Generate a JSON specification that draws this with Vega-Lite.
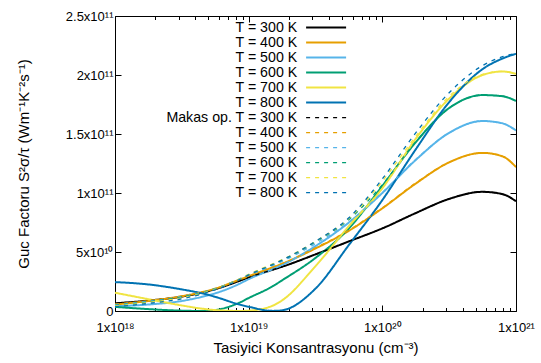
{
  "$schema": "https://vega.github.io/schema/vega-lite/v6.json",
  "width": 401,
  "height": 295,
  "autosize": {"type": "none"},
  "padding": {"left": 115, "top": 16, "right": 25, "bottom": 52},
  "config": {
    "view": {"stroke": "black", "strokeWidth": 1},
    "font": "Liberation Sans",
    "axis": {"domain": false, "grid": false, "tickColor": "black", "labelColor": "black", "titleColor": "black", "labelFontSize": 13, "titleFontSize": 15, "titleFontWeight": "normal", "labelFont": "Liberation Sans", "titleFont": "Liberation Sans"}
  },
  "datasets": {
    "curves": [
      {"n": 1e18, "a300": 6.5e9, "a400": 5.5e9, "a500": 4.0e9, "a600": 3.5e9, "a700": 15.5e9, "a800": 24.5e9, "b300": 6.5e9, "b400": 6.0e9, "b500": 5.3e9, "b600": 4.8e9, "b700": 4.3e9, "b800": 3.7e9},
      {"n": 1.778e18, "a300": 8.8e9, "a400": 8.5e9, "a500": 5.5e9, "a600": 1.6e9, "a700": 10e9, "a800": 22.5e9, "b300": 8.8e9, "b400": 8.8e9, "b500": 8.3e9, "b600": 7.8e9, "b700": 7.2e9, "b800": 6.4e9},
      {"n": 3.162e18, "a300": 12.2e9, "a400": 12.5e9, "a500": 8.5e9, "a600": 0.3e9, "a700": 4.7e9, "a800": 18.3e9, "b300": 12.2e9, "b400": 12.8e9, "b500": 12.3e9, "b600": 11.8e9, "b700": 11.2e9, "b800": 10.4e9},
      {"n": 4.467e18, "a300": 15.5e9, "a400": 16e9, "a500": 12e9, "a600": 0, "a700": 2e9, "a800": 15e9, "b300": 15.5e9, "b400": 16e9, "b500": 15.8e9, "b600": 15.4e9, "b700": 15e9, "b800": 14.4e9},
      {"n": 5.623e18, "a300": 18.5e9, "a400": 19e9, "a500": 15e9, "a600": 0.8e9, "a700": 0.8e9, "a800": 12e9, "b300": 18.5e9, "b400": 19e9, "b500": 19e9, "b600": 18.8e9, "b700": 18.5e9, "b800": 18e9},
      {"n": 8.511e18, "a300": 25.5e9, "a400": 26.5e9, "a500": 23e9, "a600": 7e9, "a700": 0.05e9, "a800": 5.5e9, "b300": 25.5e9, "b400": 26.5e9, "b500": 26.8e9, "b600": 27e9, "b700": 27e9, "b800": 26.6e9},
      {"n": 1e19, "a300": 28.5e9, "a400": 29.5e9, "a500": 27e9, "a600": 11e9, "a700": 0.3e9, "a800": 3.6e9, "b300": 28.5e9, "b400": 29.8e9, "b500": 30.3e9, "b600": 30.8e9, "b700": 31e9, "b800": 30.6e9},
      {"n": 1.514e19, "a300": 35e9, "a400": 37e9, "a500": 35.5e9, "a600": 21e9, "a700": 4.5e9, "a800": 0.1e9, "b300": 35e9, "b400": 37.5e9, "b500": 38.5e9, "b600": 39.5e9, "b700": 40e9, "b800": 39.5e9},
      {"n": 1.778e19, "a300": 37.5e9, "a400": 40e9, "a500": 39e9, "a600": 26e9, "a700": 9e9, "a800": 0.6e9, "b300": 37.5e9, "b400": 40.3e9, "b500": 42e9, "b600": 43e9, "b700": 43.5e9, "b800": 43.2e9},
      {"n": 3.162e19, "a300": 48e9, "a400": 53e9, "a500": 55e9, "a600": 45e9, "a700": 38e9, "a800": 19e9, "b300": 48e9, "b400": 53.5e9, "b500": 57e9, "b600": 58.5e9, "b700": 59e9, "b800": 59e9},
      {"n": 5.623e19, "a300": 59e9, "a400": 68e9, "a500": 75e9, "a600": 70e9, "a700": 72e9, "a800": 56e9, "b300": 59e9, "b400": 68.5e9, "b500": 75.5e9, "b600": 77.5e9, "b700": 78.5e9, "b800": 79e9},
      {"n": 1e20, "a300": 70e9, "a400": 87e9, "a500": 100e9, "a600": 106e9, "a700": 104e9, "a800": 94e9, "b300": 70e9, "b400": 87.5e9, "b500": 100.5e9, "b600": 107e9, "b700": 110e9, "b800": 112e9},
      {"n": 1.778e20, "a300": 83e9, "a400": 108e9, "a500": 128e9, "a600": 143e9, "a700": 146e9, "a800": 137e9, "b300": 83e9, "b400": 108.5e9, "b500": 128.5e9, "b600": 143.5e9, "b700": 148e9, "b800": 151e9},
      {"n": 3.162e20, "a300": 95e9, "a400": 126e9, "a500": 151e9, "a600": 172e9, "a700": 180e9, "a800": 177e9, "b300": 95e9, "b400": 126e9, "b500": 151e9, "b600": 172e9, "b700": 182e9, "b800": 185e9},
      {"n": 5.623e20, "a300": 101e9, "a400": 134e9, "a500": 161e9, "a600": 183e9, "a700": 200e9, "a800": 205e9, "b300": 101e9, "b400": 134e9, "b500": 161e9, "b600": 183e9, "b700": 200.5e9, "b800": 208e9},
      {"n": 7.943e20, "a300": 99e9, "a400": 131e9, "a500": 159e9, "a600": 182e9, "a700": 203e9, "a800": 214e9, "b300": 99e9, "b400": 131e9, "b500": 159e9, "b600": 182e9, "b700": 203e9, "b800": 215.5e9},
      {"n": 1e21, "a300": 93e9, "a400": 122e9, "a500": 153e9, "a600": 178e9, "a700": 201e9, "a800": 218e9, "b300": 93e9, "b400": 122e9, "b500": 153e9, "b600": 178e9, "b700": 201e9, "b800": 218.5e9}
    ]
  },
  "layer": [
    {
      "data": {"name": "curves"},
      "transform": [
        {"fold": ["a300", "a400", "a500", "a600", "a700", "a800", "b300", "b400", "b500", "b600", "b700", "b800"], "as": ["key", "pf"]}
      ],
      "mark": {"type": "line", "interpolate": "monotone", "clip": true},
      "encoding": {
        "x": {
          "field": "n", "type": "quantitative",
          "scale": {"type": "log", "domain": [1e18, 1e21]},
          "axis": {
            "orient": "bottom",
            "values": [1e18, 2e18, 3e18, 4e18, 5e18, 6e18, 7e18, 8e18, 9e18, 1e19, 2e19, 3e19, 4e19, 5e19, 6e19, 7e19, 8e19, 9e19, 1e20, 2e20, 3e20, 4e20, 5e20, 6e20, 7e20, 8e20, 9e20, 1e21],
            "labelExpr": "datum.value == 1e18 ? '1x10¹⁸' : datum.value == 1e19 ? '1x10¹⁹' : datum.value == 1e20 ? '1x10²⁰' : datum.value == 1e21 ? '1x10²¹' : ''",
            "tickSize": {"condition": {"test": "abs(log(datum.value)/LN10 - round(log(datum.value)/LN10)) < 0.001", "value": -6}, "value": -3.5},
            "labelPadding": 16,
            "labelFlush": false,
            "labelOverlap": false,
            "title": "Tasiyici Konsantrasyonu (cm⁻³)",
            "titlePadding": 4
          }
        },
        "y": {
          "field": "pf", "type": "quantitative",
          "scale": {"domain": [0, 2.5e11], "nice": false},
          "axis": {
            "orient": "left",
            "values": [0, 5e10, 1e11, 1.5e11, 2e11, 2.5e11],
            "labelExpr": "datum.value == 0 ? '0' : datum.value == 5e10 ? '5x10¹⁰' : datum.value == 1e11 ? '1x10¹¹' : datum.value == 1.5e11 ? '1.5x10¹¹' : datum.value == 2e11 ? '2x10¹¹' : '2.5x10¹¹'",
            "tickSize": -6,
            "labelPadding": 8,
            "title": "Guc Factoru S²σ/τ (Wm⁻¹K⁻²s⁻¹)",
            "titlePadding": 34
          }
        },
        "color": {
          "field": "key", "type": "nominal",
          "scale": {
            "domain": ["a300", "a400", "a500", "a600", "a700", "a800", "b300", "b400", "b500", "b600", "b700", "b800"],
            "range": ["#000000", "#E69F00", "#56B4E9", "#009E73", "#F0E442", "#0072B2", "#000000", "#E69F00", "#56B4E9", "#009E73", "#F0E442", "#0072B2"]
          },
          "legend": {
            "orient": "none",
            "legendX": 204,
            "legendY": 4.5,
            "title": null,
            "symbolType": "M-4,0H4",
            "symbolSize": 100,
            "labelFontSize": 14.2,
            "labelFont": "Liberation Sans",
            "labelColor": "black",
            "labelAlign": "right",
            "labelOffset": -36,
            "labelLimit": 400,
            "rowPadding": 0,
            "labelExpr": "datum.label == 'b300' ? 'Makas op. T = 300 K' : 'T = ' + substring(datum.label, 1, 4) + ' K'"
          }
        },
        "strokeDash": {
          "field": "key", "type": "nominal",
          "scale": {
            "domain": ["a300", "a400", "a500", "a600", "a700", "a800", "b300", "b400", "b500", "b600", "b700", "b800"],
            "range": [[1, 0], [1, 0], [1, 0], [1, 0], [1, 0], [1, 0], [4, 5], [4, 5], [4, 5], [4, 5], [4, 5], [4, 5]]
          }
        },
        "strokeWidth": {
          "field": "key", "type": "nominal",
          "scale": {
            "type": "ordinal",
            "domain": ["a300", "a400", "a500", "a600", "a700", "a800", "b300", "b400", "b500", "b600", "b700", "b800"],
            "range": [2, 2, 2, 2, 2, 2, 1.3, 1.3, 1.3, 1.3, 1.3, 1.3]
          }
        }
      }
    },
    {
      "mark": {"type": "text", "text": "p-tipi", "fontSize": 15, "font": "Liberation Sans", "color": "black", "align": "center", "baseline": "middle"},
      "encoding": {
        "x": {
          "datum": 1.66e20, "type": "quantitative",
          "scale": {"type": "log", "domain": [1e18, 1e21]},
          "axis": {
            "orient": "top",
            "values": [1e18, 2e18, 3e18, 4e18, 5e18, 6e18, 7e18, 8e18, 9e18, 1e19, 2e19, 3e19, 4e19, 5e19, 6e19, 7e19, 8e19, 9e19, 1e20, 2e20, 3e20, 4e20, 5e20, 6e20, 7e20, 8e20, 9e20, 1e21],
            "labels": false,
            "tickSize": {"condition": {"test": "abs(log(datum.value)/LN10 - round(log(datum.value)/LN10)) < 0.001", "value": -6}, "value": -3.5},
            "title": null
          }
        },
        "y": {
          "datum": 2.246e11, "type": "quantitative",
          "scale": {"domain": [0, 2.5e11], "nice": false},
          "axis": {"orient": "right", "values": [0, 5e10, 1e11, 1.5e11, 2e11, 2.5e11], "labels": false, "tickSize": -6, "title": null}
        }
      }
    }
  ],
  "resolve": {"axis": {"x": "independent", "y": "independent"}}
}
